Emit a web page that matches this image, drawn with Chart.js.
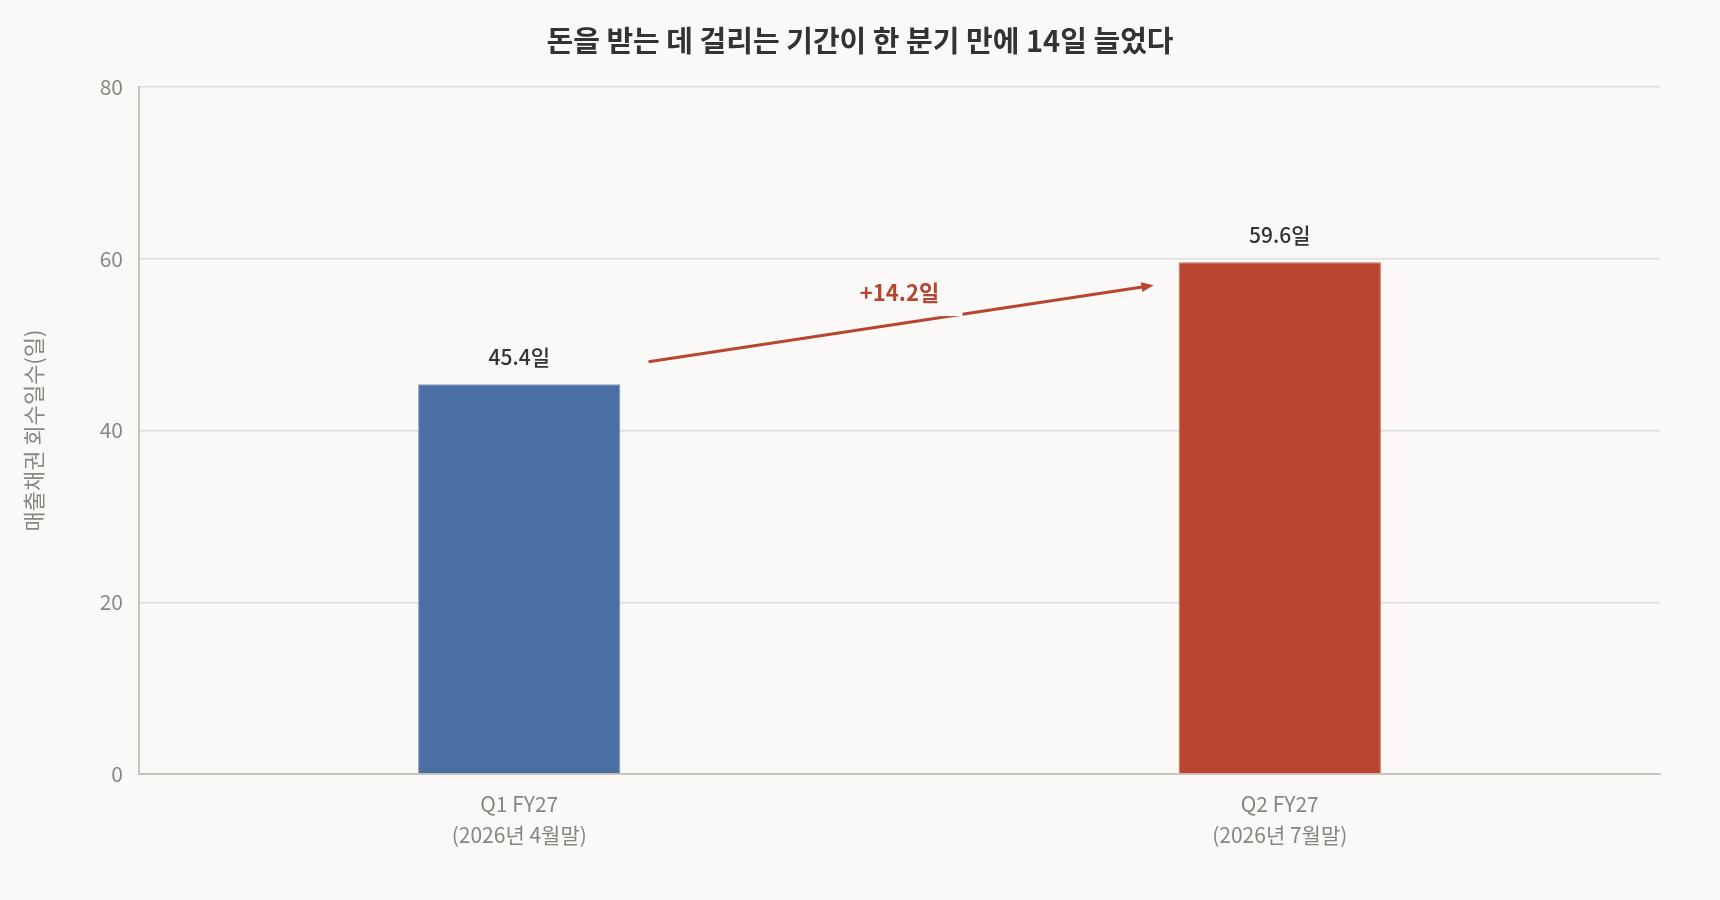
<!DOCTYPE html>
<html><head><meta charset="utf-8">
<script src="https://cdn.jsdelivr.net/npm/chart.js@4"></script>
<style>
html,body{margin:0;padding:0;background:#faf9f7;}
#wrap{width:1720px;height:900px;}
</style></head>
<body><div id="wrap"><canvas id="c" width="1720" height="900"></canvas></div>
<script>
const titleText = '돈을 받는 데 걸리는 기간이 한 분기 만에 14일 늘었다';
const yAxisTitle = '매출채권 회수일수(일)';
const categories = [['Q1 FY27','(2026년 4월말)'], ['Q2 FY27','(2026년 7월말)']];
const dsoDays = [45.4, 59.6];
const valueLabels = ['45.4일', '59.6일'];
const barColors = ['#4a6fa5', '#b8452f'];
const yTicks = [0, 20, 40, 60, 80];
const arrowFrom = [0.17, 48.0];
const arrowTo = [0.834, 56.9];
const deltaLabel = '+14.2일';
const deltaLabelAt = [0.5, 56.0];

const FONT = '"Noto Sans CJK KR", "Noto Sans", sans-serif';

const overlay = {
  id: 'overlay',
  afterDatasetsDraw(chart) {
    const ctx = chart.ctx;
    const xs = chart.scales.x, ys = chart.scales.y;
    ctx.save();
    // title
    ctx.font = '700 29px ' + FONT;
    ctx.fillStyle = '#333333';
    ctx.textAlign = 'center';
    ctx.textBaseline = 'middle';
    ctx.fillText(titleText, chart.width / 2, 41);
    // value labels
    const meta = chart.getDatasetMeta(0);
    ctx.font = '500 21px ' + FONT;
    ctx.fillStyle = '#333333';
    meta.data.forEach((bar, i) => {
      ctx.fillText(valueLabels[i], bar.x, bar.y - 27);
    });
    // arrow
    const x1 = xs.getPixelForValue(arrowFrom[0]), y1 = ys.getPixelForValue(arrowFrom[1]);
    const x2 = xs.getPixelForValue(arrowTo[0]), y2 = ys.getPixelForValue(arrowTo[1]);
    const ang = Math.atan2(y2 - y1, x2 - x1);
    const hl = 12;
    ctx.strokeStyle = '#b8452f';
    ctx.fillStyle = '#b8452f';
    ctx.lineWidth = 3;
    ctx.beginPath();
    ctx.moveTo(x1, y1);
    ctx.lineTo(x2 - Math.cos(ang) * hl * 0.8, y2 - Math.sin(ang) * hl * 0.8);
    ctx.stroke();
    ctx.beginPath();
    ctx.moveTo(x2, y2);
    ctx.lineTo(x2 - hl * Math.cos(ang) + 5 * Math.sin(ang), y2 - hl * Math.sin(ang) - 5 * Math.cos(ang));
    ctx.lineTo(x2 - hl * Math.cos(ang) - 5 * Math.sin(ang), y2 - hl * Math.sin(ang) + 5 * Math.cos(ang));
    ctx.closePath();
    ctx.fill();
    // delta label with background box
    const lx = xs.getPixelForValue(deltaLabelAt[0]), ly = ys.getPixelForValue(deltaLabelAt[1]);
    ctx.fillStyle = '#faf9f7';
    ctx.fillRect(lx - 52, ly - 22, 115, 45);
    ctx.font = '700 22px ' + FONT;
    ctx.fillStyle = '#b8452f';
    ctx.fillText(deltaLabel, lx, ly);
    ctx.restore();
  }
};

const bgPlugin = {
  id: 'bg',
  beforeDraw(chart) {
    const ctx = chart.ctx;
    ctx.save();
    ctx.fillStyle = '#faf9f7';
    ctx.fillRect(0, 0, chart.width, chart.height);
    ctx.restore();
  }
};

new Chart(document.getElementById('c'), {
  type: 'bar',
  data: {
    labels: categories,
    datasets: [{
      data: dsoDays,
      backgroundColor: barColors,
      borderColor: ['#7d97c0', '#c9705e'],
      borderWidth: 1,
      categoryPercentage: 1,
      barPercentage: 0.266
    }]
  },
  options: {
    responsive: false,
    animation: false,
    devicePixelRatio: 1,
    layout: { padding: { left: 20, right: 60, top: 87, bottom: 0 } },
    plugins: {
      legend: { display: false },
      tooltip: { enabled: false },
      title: { display: false }
    },
    scales: {
      x: {
        grid: { display: false, drawTicks: false },
        border: { display: true, color: '#c8c4bc', width: 2 },
        ticks: { color: '#888580', font: { family: FONT, size: 21, lineHeight: 1.48 }, padding: 14 },
        afterFit(s) { s.height = 126; }
      },
      y: {
        min: 0, max: 80,
        afterBuildTicks(s) { s.ticks = yTicks.map(v => ({ value: v })); },
        grid: { color: '#e0ddd7', lineWidth: 1.5, drawTicks: false },
        border: { display: true, color: '#c8c4bc', width: 2 },
        ticks: { color: '#8a8782', font: { family: FONT, size: 21 }, padding: 16 },
        title: { display: true, text: yAxisTitle, color: '#8a8782', font: { family: FONT, size: 22 }, padding: { top: 0, bottom: 0 } },
        afterFit(s) { s.width = 119; }
      }
    }
  },
  plugins: [bgPlugin, overlay]
});
</script>
</body></html>
